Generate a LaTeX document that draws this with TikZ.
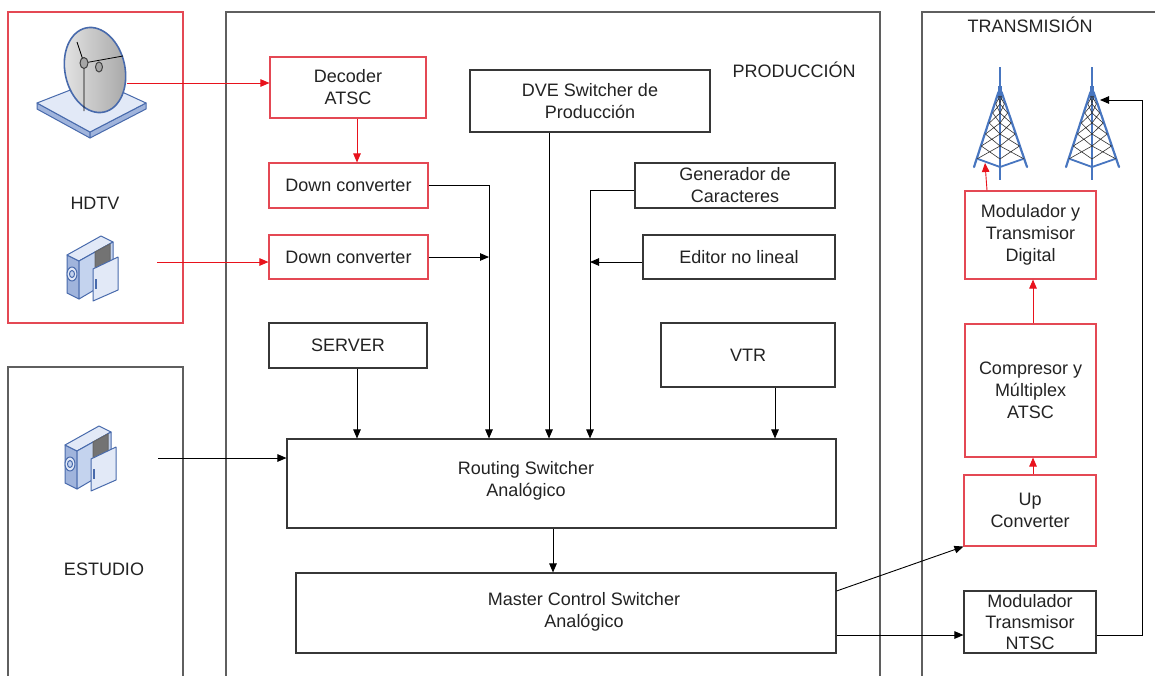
\documentclass[tikz,border=0pt]{standalone}
\usepackage{fontspec}
\setmainfont{Liberation Sans}
\usetikzlibrary{arrows.meta,calc}

\definecolor{redline}{RGB}{228,72,84}
\definecolor{arrowred}{RGB}{232,18,28}
\definecolor{boxline}{RGB}{55,55,55}
\definecolor{frameline}{RGB}{95,95,95}
\definecolor{txt}{RGB}{35,35,35}
\definecolor{iconfill}{RGB}{196,211,238}
\definecolor{iconlight}{RGB}{226,233,247}
\definecolor{icondark}{RGB}{160,180,220}
\definecolor{iconline}{RGB}{72,106,172}
\definecolor{towerblue}{RGB}{72,118,192}

% lattice tower, centred on x = #1
\newcommand\drawtower[1]{%
  \begin{scope}[shift={(#1,0)}]
    \draw[towerblue, line width=2.2pt] (0,67) -- (0,180);
    \draw[towerblue, line width=3.4pt] (0,86) -- (0,100);
    \draw[towerblue, line width=2.2pt, line cap=round] (-1.5,92) -- (-26,167);
    \draw[towerblue, line width=2.2pt, line cap=round] (1.5,92) -- (27,167);
    \draw[towerblue, line width=1.8pt] (-22,159) -- (0,167) -- (23,159);
    \foreach \a/\b in {96/104,104/113,113/123,123/134,134/146,146/159}{
      \draw[black!80, line width=0.6pt]
        ({-26*(\a-92)/75},\a) -- (0,\b)
        (0,\a) -- ({-26*(\b-92)/75},\b)
        ({27*(\a-92)/75},\a) -- (0,\b)
        (0,\a) -- ({27*(\b-92)/75},\b);
    }
  \end{scope}}

% camcorder, top-left corner at (#1,#2)
\newcommand\drawcamera[2]{%
  \begin{scope}[shift={(#1,#2)}, draw=iconline, line width=1pt, line join=round]
    \filldraw[fill=icondark] (2,22) -- (14,28) -- (14,66) -- (2,60) -- cycle;
    \filldraw[fill=iconlight] (2,22) -- (36,3) -- (48,9) -- (14,28) -- cycle;
    \filldraw[fill=iconfill] (14,28) -- (48,9) -- (48,46) -- (14,66) -- cycle;
    \filldraw[fill=black!55, draw=black!60] (30,19) -- (45,11) -- (45,33) -- (30,41) -- cycle;
    \filldraw[fill=iconlight] (28,36) -- (53,24) -- (53,57) -- (28,68) -- cycle;
    \draw[line width=1.2pt] (31,46) -- (31,56);
    \filldraw[fill=iconlight] (7,41) ellipse [x radius=5, y radius=7];
    \filldraw[fill=iconfill] (7,41) ellipse [x radius=2.5, y radius=3.5];
  \end{scope}}

\begin{document}
\begin{tikzpicture}[x=1pt, y=-1pt,
  font=\fontsize{18}{22}\selectfont, text=txt,
  box/.style={draw=boxline, line width=1.1pt, fill=white, inner sep=0pt, align=center},
  redbox/.style={box, draw=redline},
  frame/.style={draw=frameline, line width=1.4pt},
  arr/.style={draw=black, line width=0.9pt, -{Triangle[length=9pt,width=7.5pt]}},
  rarr/.style={draw=arrowred, line width=0.9pt, -{Triangle[length=9pt,width=7.5pt]}},
  lbl/.style={inner sep=0pt, anchor=base}]

\useasboundingbox (0,0) rectangle (1155,675);
\fill[white] (0,0) rectangle (1155,675);
\clip (0,0) rectangle (1155,675);

% area frames
\draw[frame, draw=redline] (8,12) rectangle (183,323);
\draw[frame] (8,690) -- (8,367) -- (183,367) -- (183,690);
\draw[frame] (226,690) -- (226,12) -- (880,12) -- (880,690);
\draw[frame] (922,690) -- (922,12) -- (1170,12);

\node[lbl] (hdtv) at (95,209) {HDTV};
\node[lbl] (estudio) at (104,575) {ESTUDIO};
\node[lbl] (prod) at (794,77) {PRODUCCIÓN};
\node[lbl] (trans) at (1030,32) {TRANSMISIÓN};

% satellite dish
\begin{scope}[draw=iconline, line width=1pt, line join=round]
  \filldraw[fill=icondark] (37,103) -- (90,132) -- (90,138) -- (37,109) -- cycle;
  \filldraw[fill=icondark] (90,132) -- (146,103) -- (146,109) -- (90,138) -- cycle;
  \filldraw[fill=iconlight] (37,103) -- (96,80) -- (146,103) -- (90,132) -- cycle;
  \shade[left color=black!10, right color=black!35]
    [shift={(95,70)}, rotate=12] (0,0) ellipse [x radius=30, y radius=43];
  \draw[line width=1.6pt, shift={(95,70)}, rotate=12] (0,0) ellipse [x radius=30, y radius=43];
  \draw[black, line width=0.8pt] (77,42) -- (84,63) -- (84,111);
  \draw[black, line width=0.8pt] (84,63) -- (123,56);
  \filldraw[fill=black!35, draw=black!75] (84,63) ellipse [x radius=4, y radius=5.5];
  \filldraw[fill=black!35, draw=black!75] (99,67) ellipse [x radius=3.5, y radius=5];
\end{scope}

% cameras
\drawcamera{65}{233}
\drawcamera{63}{423}

% towers
\drawtower{1000}
\drawtower{1092}

% production blocks
\node[redbox, minimum width=156, minimum height=61] (dec) at (348,87.5) {Decoder\\ATSC};
\node[box, minimum width=240, minimum height=62] (dve) at (590,101) {DVE Switcher de\\Producción};
\node[redbox, minimum width=159, minimum height=45] (dc1) at (348.5,185.5) {Down converter};
\node[redbox, minimum width=159, minimum height=44] (dc2) at (348.5,257) {Down converter};
\node[box, minimum width=200, minimum height=45] (gen) at (735,185.5) {Generador de\\Caracteres};
\node[box, minimum width=192, minimum height=44] (edit) at (739,257) {Editor no lineal};
\node[box, minimum width=174, minimum height=64] (vtr) at (748,355) {VTR};
\node[box, minimum width=158, minimum height=45] (srv) at (348,345.5) {SERVER};
\node[box, minimum width=549, minimum height=89] (rout) at (561.5,483.5) {};
\node[inner sep=0pt, align=center] (routtxt) at (526,481) {Routing Switcher\\Analógico};
\node[box, minimum width=540, minimum height=80] (mcs) at (566,613) {};
\node[inner sep=0pt, align=center] (mcstxt) at (584,612) {Master Control Switcher\\Analógico};

% transmission blocks
\node[redbox, minimum width=131, minimum height=88] (moddig) at (1030.5,235) {Modulador y\\Transmisor\\Digital};
\node[redbox, minimum width=131, minimum height=133] (comp) at (1030.5,390.5) {Compresor y\\Múltiplex\\ATSC};
\node[redbox, minimum width=132, minimum height=71] (upc) at (1030,510.5) {Up\\Converter};
\node[box, minimum width=132, minimum height=62, font=\fontsize{18}{21}\selectfont] (ntsc) at (1030,622) {Modulador\\Transmisor\\NTSC};

% connector anchors
\coordinate (dishout) at (127,83);
\coordinate (hdcamout) at (157,262);
\coordinate (stcamout) at (158,458);
\coordinate (srvbus) at (357,0);
\coordinate (decbus) at (357,0);
\coordinate (bus1) at (489,0);
\coordinate (dvebus) at (549,0);
\coordinate (bus2) at (590,0);
\coordinate (vtrbus) at (775,0);
\coordinate (rmbus) at (553,0);
\coordinate (ylow) at (0,635);
\coordinate (rcol) at (1033,0);
\coordinate (rtbus) at (1142,0);
\coordinate (t1in) at (985,163);
\coordinate (t2in) at (1100,100);

% HDTV inputs
\draw[rarr] (dishout) -- (dec.west |- dishout);
\draw[rarr] (hdcamout) -- (dc2.west |- hdcamout);
\draw[rarr] (dec.south -| decbus) -- (dc1.north -| decbus);

% feeds into the routing switcher
\draw[arr] (dc1.east) -| (bus1 |- rout.north);
\draw[arr] (dc2.east) -- (dc2.east -| bus1);
\draw[arr] (dve.south -| dvebus) -- (rout.north -| dvebus);
\draw[arr] ([yshift=-4.5pt]gen.west) -| (bus2 |- rout.north);
\draw[arr] ([yshift=-5pt]edit.west) -- ([yshift=-5pt]edit.west -| bus2);
\draw[arr] (srv.south -| srvbus) -- (rout.north -| srvbus);
\draw[arr] (vtr.south -| vtrbus) -- (rout.north -| vtrbus);
\draw[arr] (stcamout) -- (rout.west |- stcamout);
\draw[arr] (rout.south -| rmbus) -- (mcs.north -| rmbus);

% master control outputs
\draw[arr] ([yshift=22pt]mcs.east) -- (upc.south west);
\draw[arr] (mcs.east |- ylow) -- (ntsc.west |- ylow);
\draw[arr] (ntsc.east |- ylow) -| (rtbus |- t2in) -- (t2in);

% digital chain
\draw[rarr] (upc.north -| rcol) -- (comp.south -| rcol);
\draw[rarr] (comp.north -| rcol) -- (moddig.south -| rcol);
\draw[rarr] ([xshift=-43.5pt]moddig.north) -- (t1in);

\end{tikzpicture}
\end{document}
